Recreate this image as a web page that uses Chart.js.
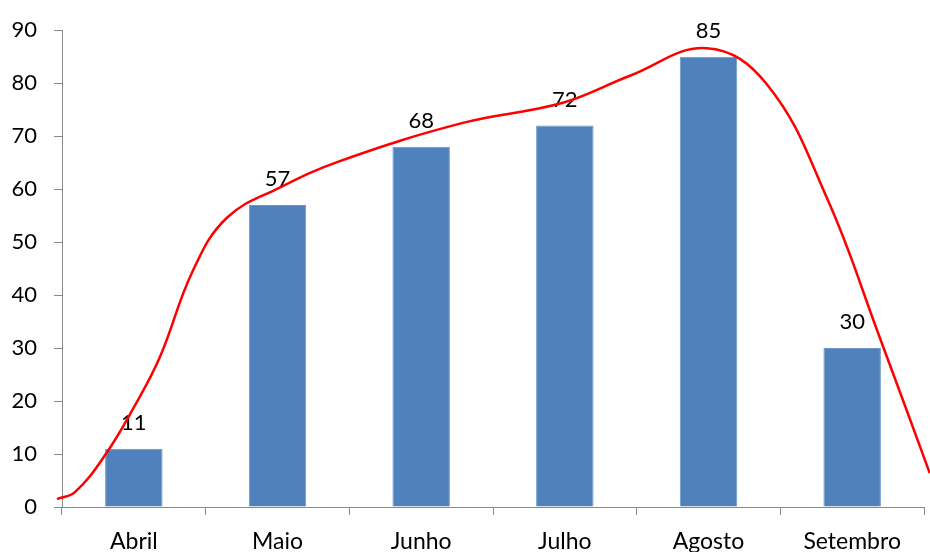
<!DOCTYPE html>
<html lang="pt">
<head>
    <meta charset="UTF-8">
    <title>Abril - Setembro</title>
    <script src="https://cdn.jsdelivr.net/npm/chart.js"></script>
    <style>
        html, body { margin: 0; padding: 0; background: #fff; overflow: hidden; }
        #wrap { position: relative; width: 930px; height: 580px; }
    </style>
</head>
<body>
    <div id="wrap"><canvas id="grafico"></canvas></div>

    <script>
        // valores
        const meses = ['Abril', 'Maio', 'Junho', 'Julho', 'Agosto', 'Setembro'];
        const valores = [11, 57, 68, 72, 85, 30];

        // curva vermelha (posição em unidades de categoria, valor)
        const curvaX = [-0.535, -0.41, -0.2, 0, 0.18, 0.411, 0.648, 1.016, 1.434, 2.29, 2.986, 3.453, 3.988, 4.406, 4.823, 5.192, 5.54];
        const curvaY = [1.5, 2.8, 9.8, 18.8, 28.2, 44.6, 54.6, 60.3, 65.3, 72.5, 76.3, 81.4, 86.6, 79.8, 58.4, 32.0, 6.4];

        const yMin = 0, yMax = 90, yPasso = 10;

        const fonte = 'Lato, "DejaVu Sans", sans-serif';
        const cinza = '#898989';

        const rotulos = {
            id: 'rotulos',
            afterDatasetDraw(chart, args) {
                if (args.index !== 0) return;
                const ctx = chart.ctx;
                ctx.save();
                ctx.font = '22px ' + fonte;
                ctx.fillStyle = '#000';
                ctx.textAlign = 'center';
                ctx.textBaseline = 'middle';
                args.meta.data.forEach((bar, i) => {
                    ctx.fillText(String(valores[i]), bar.x, bar.y - 26);
                });
                ctx.restore();
            }
        };

        new Chart(document.getElementById('grafico'), {
            type: 'bar',
            data: {
                labels: meses,
                datasets: [
                    {
                        type: 'bar',
                        data: valores,
                        backgroundColor: '#4F81BD',
                        borderColor: '#6B95C8',
                        borderWidth: 1,
                        barPercentage: 0.4,
                        categoryPercentage: 1,
                        grouped: false,
                        xAxisID: 'x',
                        order: 1
                    },
                    {
                        type: 'line',
                        data: curvaX.map((x, i) => ({ x: x, y: curvaY[i] })),
                        borderColor: '#FF0000',
                        borderWidth: 2.5,
                        pointRadius: 0,
                        tension: 0.4,
                        fill: false,
                        clip: false,
                        xAxisID: 'x2',
                        order: 0
                    }
                ]
            },
            options: {
                responsive: true,
                maintainAspectRatio: false,
                animation: false,
                layout: { padding: { top: 28, right: 6, left: 0, bottom: 0 } },
                plugins: {
                    legend: { display: false },
                    tooltip: { enabled: false }
                },
                scales: {
                    x: {
                        type: 'category',
                        offset: true,
                        grid: { display: true, drawOnChartArea: false, offset: true, tickLength: 8, color: cinza },
                        border: { display: true, color: cinza, width: 1 },
                        ticks: { color: '#000', font: { family: fonte, size: 23 }, padding: 13 },
                        afterFit(s) { s.height = 580 - 507; }
                    },
                    x2: {
                        type: 'linear',
                        display: false,
                        offset: false,
                        min: -0.5,
                        max: 5.5
                    },
                    y: {
                        min: yMin,
                        max: yMax,
                        grid: { display: true, drawOnChartArea: false, tickLength: 8, color: cinza },
                        border: { display: true, color: cinza, width: 1 },
                        ticks: { stepSize: yPasso, color: '#000', font: { family: fonte, size: 22 }, padding: 17 },
                        afterFit(s) { s.width = 62; }
                    }
                }
            },
            plugins: [rotulos]
        });
    </script>
</body>
</html>
